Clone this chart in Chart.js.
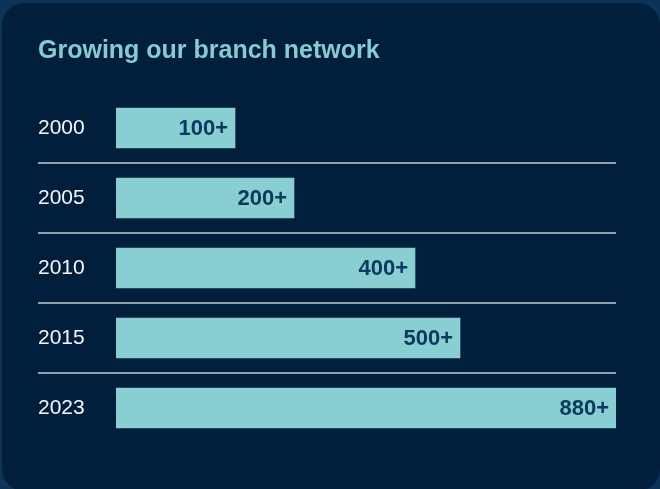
<!DOCTYPE html>
<html>
<head>
<meta charset="utf-8">
<script src="https://cdn.jsdelivr.net/npm/chart.js@4"></script>
<style>
  html, body { margin: 0; padding: 0; width: 660px; height: 489px; overflow: hidden; background: #0b3458; }
  #card { position: absolute; left: 2px; top: 3px; width: 658px; height: 488px; border-radius: 22px; background: #011f3d; }
  #wrap { position: absolute; left: 0; top: 0; width: 660px; height: 489px; }
</style>
</head>
<body>
<div id="card"></div>
<div id="wrap"><canvas id="c" width="660" height="489"></canvas></div>
<script>
const categories = ["2000", "2005", "2010", "2015", "2023"];
// bar lengths as % of the longest bar
const barLengths = [23.8, 35.6, 59.8, 68.8, 100];
const valueLabels = ["100+", "200+", "400+", "500+", "880+"];
const titleText = "Growing our branch network";

const FONT = "'Liberation Sans', Arial, Helvetica, sans-serif";

const valueLabelPlugin = {
  id: 'valueLabels',
  afterDatasetsDraw(chart) {
    const ctx = chart.ctx;
    const meta = chart.getDatasetMeta(0);
    ctx.save();
    ctx.font = "bold 22px " + FONT;
    ctx.fillStyle = "#0b3a60";
    ctx.textAlign = "right";
    ctx.textBaseline = "middle";
    meta.data.forEach((bar, i) => {
      ctx.fillText(valueLabels[i], bar.x - 7, bar.y + 1);
    });
    ctx.restore();
  }
};

const separatorPlugin = {
  id: 'separators',
  beforeDatasetsDraw(chart) {
    const ctx = chart.ctx;
    const y = chart.scales.y;
    const left = chart.options.layout.padding.left;
    const right = chart.chartArea.right;
    ctx.save();
    ctx.strokeStyle = "#c3ccd5";
    ctx.lineWidth = 1.5;
    for (let i = 0; i < categories.length - 1; i++) {
      const py = (y.getPixelForValue(i) + y.getPixelForValue(i + 1)) / 2;
      ctx.beginPath();
      ctx.moveTo(left, py);
      ctx.lineTo(right, py);
      ctx.stroke();
    }
    ctx.restore();
  }
};

new Chart(document.getElementById('c'), {
  type: 'bar',
  data: {
    labels: categories,
    datasets: [{
      data: barLengths,
      backgroundColor: "#89cfd2",
      borderWidth: 0,
      barThickness: 40
    }]
  },
  options: {
    indexAxis: 'y',
    responsive: false,
    animation: false,
    layout: { padding: { left: 38, right: 44, top: 0, bottom: 46 } },
    plugins: {
      legend: { display: false },
      tooltip: { enabled: false },
      title: {
        display: true,
        text: titleText,
        align: 'start',
        color: "#86cbd0",
        font: { family: FONT, size: 25, weight: 'bold', lineHeight: 1.2 },
        padding: { top: 36, bottom: 27 }
      }
    },
    scales: {
      x: { display: false, min: 0, max: 100 },
      y: {
        grid: { display: false },
        border: { display: false },
        ticks: {
          crossAlign: 'far',
          padding: 0,
          color: "#f4f6f8",
          font: { family: FONT, size: 21 }
        },
        afterFit(scale) { scale.width = 78; }
      }
    }
  },
  plugins: [separatorPlugin, valueLabelPlugin]
});
</script>
</body>
</html>
